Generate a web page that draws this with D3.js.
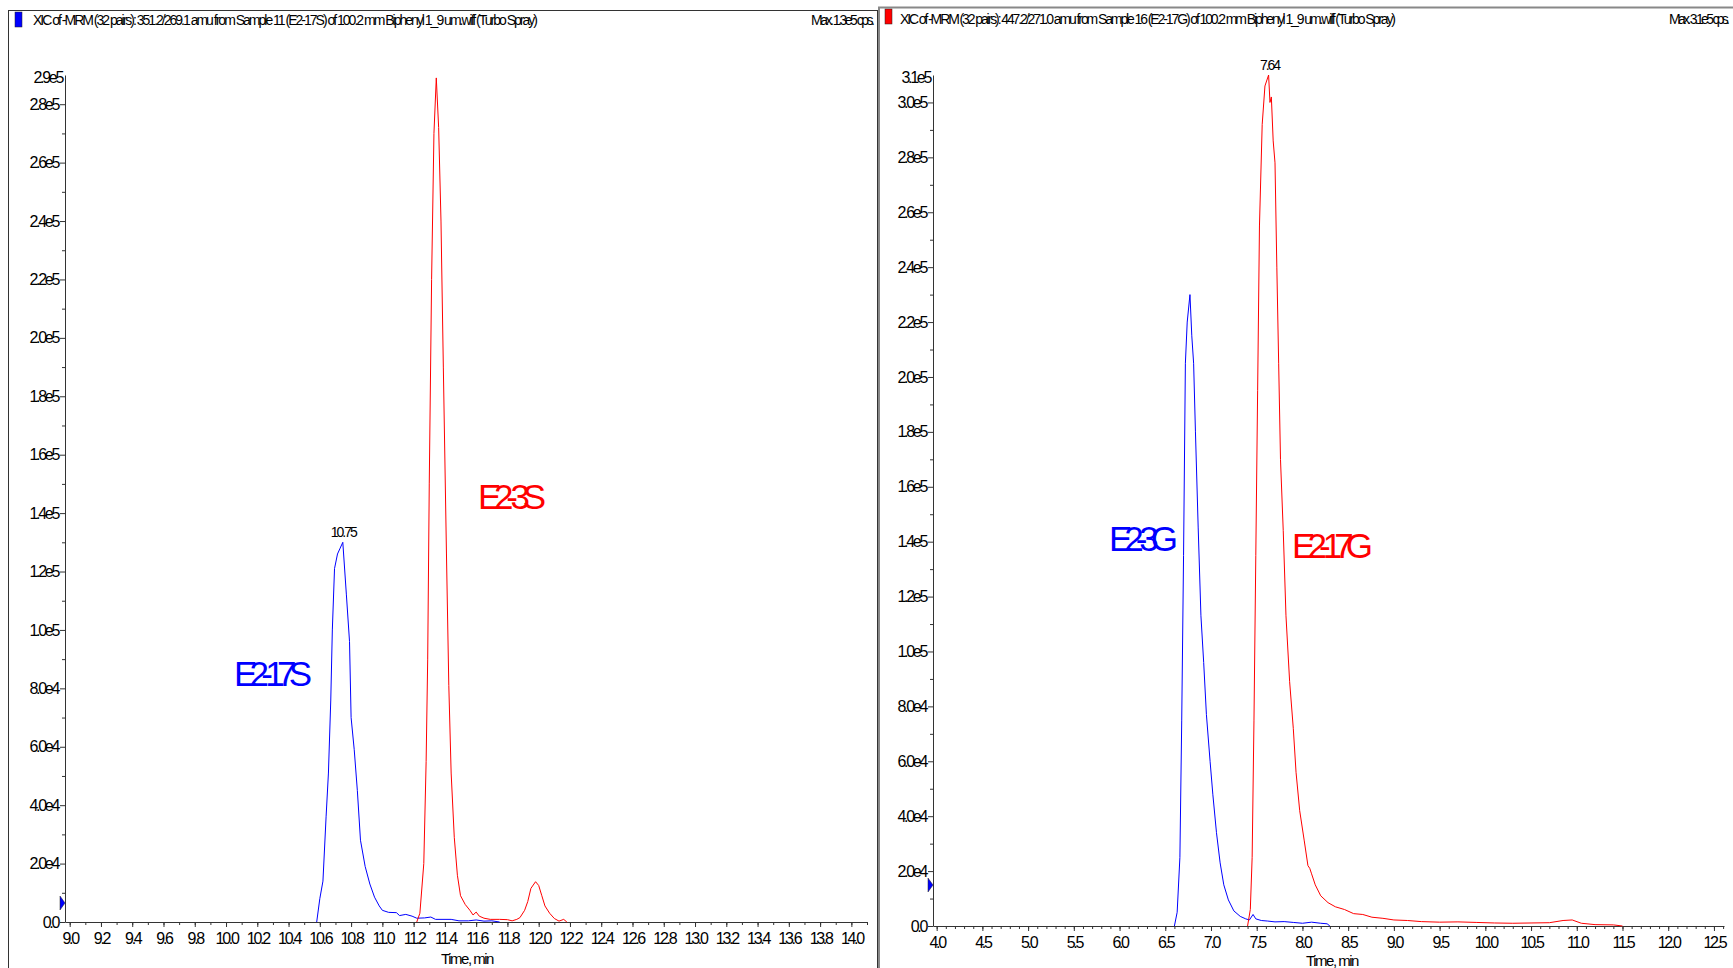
<!DOCTYPE html>
<html>
<head>
<meta charset="utf-8">
<script src="https://cdn.jsdelivr.net/npm/d3@7"></script>
<style>
body { margin: 0; background: #fff; }
svg { display: block; font-family: "Liberation Sans", Arial, sans-serif; }
.tick text { font-size: 16px; letter-spacing: -2.3px; fill: #000; }
.axis path, .axis line { stroke: #333; }
</style>
</head>
<body>
<svg id="chart" width="1733" height="968"></svg>
<script>

// E2-17S / E2-3S run (time in min, intensity in cps)
var e217s = [[10.58,0],[10.60,8e3],[10.62,1.4e4],[10.64,3.6e4],[10.655,5.1e4],[10.67,7.6e4],[10.68,1.0e5],
	[10.694,1.21e5],[10.713,1.26e5],[10.73,1.28e5],[10.747,1.30e5],[10.77,1.12e5],[10.79,9.6e4],[10.80,7.0e4],
	[10.82,5.9e4],[10.84,4.5e4],[10.86,2.8e4],[10.89,1.9e4],[10.92,1.3e4],[10.95,8.5e3],[10.98,5.5e3],
	[11.00,4.0e3],[11.04,3.3e3],[11.09,3.2e3],[11.11,2.2e3],[11.15,2.6e3],[11.19,2.0e3],[11.22,1.3e3],
	[11.27,1.4e3],[11.31,1.7e3],[11.34,900],[11.44,900],[11.49,400],[11.55,400],[11.60,700],[11.65,300],
	[11.70,400],[11.75,0]];
var e23s = [[11.22,0],[11.24,3e3],[11.265,2.0e4],[11.28,5.5e4],[11.29,9.0e4],[11.30,1.5e5],[11.315,2.2e5],
	[11.33,2.7e5],[11.345,2.89e5],[11.36,2.72e5],[11.375,2.4e5],[11.39,1.9e5],[11.41,1.26e5],[11.425,8.1e4],
	[11.44,5.1e4],[11.46,2.9e4],[11.48,1.6e4],[11.50,9e3],[11.53,6e3],[11.56,4e3],[11.58,2.4e3],[11.60,3.4e3],
	[11.62,2.0e3],[11.65,1.3e3],[11.69,900],[11.75,900],[11.80,800],[11.83,400],[11.86,900],[11.88,1.5e3],
	[11.91,4e3],[11.93,7e3],[11.95,1.15e4],[11.98,1.38e4],[12.00,1.25e4],[12.02,9e3],[12.04,5.5e3],
	[12.07,3.0e3],[12.10,1.2e3],[12.13,300],[12.16,900],[12.18,0]];

// E2-3G / E2-17G run
var e23g = [[6.60,0],[6.63,5e3],[6.66,2.5e4],[6.68,7.5e4],[6.70,1.35e5],[6.72,2.05e5],[6.74,2.2e5],[6.77,2.3e5],
	[6.79,2.15e5],[6.81,2.05e5],[6.83,1.8e5],[6.86,1.45e5],[6.89,1.13e5],[6.92,9.6e4],[6.95,7.7e4],[6.99,6.0e4],
	[7.02,4.8e4],[7.06,3.4e4],[7.10,2.3e4],[7.14,1.5e4],[7.19,9.5e3],[7.25,5.5e3],[7.32,3.5e3],[7.38,2.6e3],
	[7.42,2.2e3],[7.46,4.2e3],[7.49,2.6e3],[7.55,2.0e3],[7.62,1.8e3],[7.70,1.5e3],[7.80,1.6e3],[7.90,1.3e3],
	[8.00,1.0e3],[8.10,1.4e3],[8.20,1.0e3],[8.27,800],[8.30,0]];
var e217g = [[7.40,0],[7.43,6e3],[7.45,2.5e4],[7.47,7.5e4],[7.49,1.35e5],[7.51,1.95e5],[7.53,2.55e5],[7.56,2.92e5],
	[7.59,3.06e5],[7.63,3.1e5],[7.645,3.0e5],[7.66,3.02e5],[7.68,2.86e5],[7.70,2.78e5],[7.72,2.4e5],[7.74,2.05e5],
	[7.76,1.7e5],[7.79,1.44e5],[7.82,1.13e5],[7.86,8.9e4],[7.90,7.2e4],[7.93,5.6e4],[7.97,4.2e4],[8.02,3.1e4],
	[8.06,2.2e4],[8.08,2.1e4],[8.10,1.9e4],[8.14,1.5e4],[8.20,1.1e4],[8.28,8.5e3],[8.36,7e3],[8.46,6e3],
	[8.56,4.5e3],[8.66,4.2e3],[8.76,3.2e3],[8.88,2.8e3],[9.00,2.2e3],[9.15,2.0e3],[9.30,1.6e3],[9.50,1.4e3],
	[9.70,1.5e3],[9.90,1.3e3],[10.10,1.1e3],[10.30,1.0e3],[10.50,1.1e3],[10.70,1.2e3],[10.85,2.0e3],
	[10.95,2.2e3],[11.05,1.0e3],[11.20,500],[11.40,400],[11.50,0]];

// tick labels
var leftXTicks = [9.0,9.2,9.4,9.6,9.8,10.0,10.2,10.4,10.6,10.8,11.0,11.2,11.4,11.6,11.8,12.0,12.2,12.4,12.6,12.8,
	13.0,13.2,13.4,13.6,13.8,14.0];
var leftYTicks = [0,2e4,4e4,6e4,8e4,1.0e5,1.2e5,1.4e5,1.6e5,1.8e5,2.0e5,2.2e5,2.4e5,2.6e5,2.8e5];
var leftYMax = 2.9e5;
var rightXTicks = [4.0,4.5,5.0,5.5,6.0,6.5,7.0,7.5,8.0,8.5,9.0,9.5,10.0,10.5,11.0,11.5,12.0,12.5];
var rightYTicks = [0,2e4,4e4,6e4,8e4,1.0e5,1.2e5,1.4e5,1.6e5,1.8e5,2.0e5,2.2e5,2.4e5,2.6e5,2.8e5,3.0e5];
var rightYMax = 3.1e5;

var panels = [{
	frame: [8.5, 10.5, 869], clip: [0, 0, 877],
	swatch: '#0000ff', swatchPos: [15, 12],
	title: 'XIC of -MRM (32 pairs): 351.2/269.1 amu from Sample 11 (E2-17S) of 100.2 mm Biphenyl 1_9 um.wiff (Turbo Spray)',
	titlePos: [33, 25, 505], maxText: 'Max. 1.3e5 cps.', maxPos: [811, 25, 64],
	x: [8.97, 14.1], xr: [65, 867], y: [0, leftYMax], yr: [922, 75],
	xTicks: leftXTicks, yTicks: leftYTicks, yMax: leftYMax,
	traces: [[e217s, '#0000ff'], [e23s, '#ff0000']],
	peak: ['10.75', 10.75, 1.30e5],
	labels: [['E2-17S', '#0000ff', 234, 686, 78], ['E2-3S', '#ff0000', 478, 509, 68]],
	marker: 903, timePos: [467, 964]
}, {
	frame: [879, 7.5, 900], clip: [878, 0, 855],
	swatch: '#ff0000', swatchPos: [885, 9],
	title: 'XIC of -MRM (32 pairs): 447.2/271.0 amu from Sample 16 (E2-17G) of 100.2 mm Biphenyl 1_9 um.wiff (Turbo Spray)',
	titlePos: [900, 24, 496], maxText: 'Max. 3.1e5 cps.', maxPos: [1669, 24, 61],
	x: [3.96, 12.61], xr: [933, 1724], y: [0, rightYMax], yr: [926, 75],
	xTicks: rightXTicks, yTicks: rightYTicks, yMax: rightYMax,
	traces: [[e23g, '#0000ff'], [e217g, '#ff0000']],
	peak: ['7.64', 7.64, 3.1e5],
	labels: [['E2-3G', '#0000ff', 1109, 551, 69], ['E2-17G', '#ff0000', 1292, 558, 81]],
	marker: 885, timePos: [1332, 966]
}];

var svg = d3.select('#chart');

function fmtY(v) {
	var e;
	if (v === 0) {
		return '0.0';
	}
	e = Math.floor(Math.log10(v) + 1e-9);
	return (v / Math.pow(10, e)).toFixed(1) + 'e' + e;
}

function drawPanel(p, i) {
	var g, head, x, y, line, minor, clipId;

	g = svg.append('g');
	clipId = 'clip' + i;
	svg.append('clipPath').attr('id', clipId).append('rect')
		.attr('x', p.clip[0]).attr('y', p.clip[1]).attr('width', p.clip[2]).attr('height', 968);

	// panel frame
	g.append('rect')
		.attr('x', p.frame[0]).attr('y', p.frame[1])
		.attr('width', p.frame[2]).attr('height', 1000)
		.attr('fill', 'none')
		.attr('stroke', i ? '#888' : '#333')
		.attr('stroke-width', i ? 2 : 1);

	// header
	head = g.append('g').attr('clip-path', 'url(#' + clipId + ')');
	head.append('rect')
		.attr('x', p.swatchPos[0]).attr('y', p.swatchPos[1])
		.attr('width', 7).attr('height', 15)
		.attr('fill', p.swatch).attr('stroke', '#222').attr('stroke-width', 0.5);
	head.append('text')
		.attr('x', p.titlePos[0]).attr('y', p.titlePos[1])
		.attr('textLength', p.titlePos[2]).attr('lengthAdjust', 'spacing')
		.attr('font-size', 14)
		.text(p.title);
	head.append('text')
		.attr('x', p.maxPos[0]).attr('y', p.maxPos[1])
		.attr('textLength', p.maxPos[2]).attr('lengthAdjust', 'spacing')
		.attr('font-size', 14)
		.text(p.maxText);

	x = d3.scaleLinear().domain(p.x).range(p.xr);
	y = d3.scaleLinear().domain(p.y).range(p.yr);

	// x axis with minor ticks every 0.1 min
	minor = d3.range(Math.ceil(p.x[0] * 10), Math.floor(p.x[1] * 10) + 1).map(function(d) { return d / 10; });
	g.append('g').attr('class', 'axis')
		.attr('transform', 'translate(0,' + p.yr[0] + ')')
		.call(d3.axisBottom(x).tickValues(minor).tickSize(3).tickSizeOuter(0).tickFormat(''));
	g.append('g').attr('class', 'axis')
		.attr('transform', 'translate(0,' + p.yr[0] + ')')
		.call(d3.axisBottom(x).tickValues(p.xTicks).tickSize(5).tickSizeOuter(0).tickPadding(6)
			.tickFormat(d3.format('.1f')))
		.call(function(s) { s.select('.domain').remove(); });

	// y axis, minor every 1e4
	g.append('g').attr('class', 'axis')
		.attr('transform', 'translate(' + p.xr[0] + ',0)')
		.call(d3.axisLeft(y).tickValues(d3.range(1e4, p.yMax, 2e4)).tickSize(3).tickSizeOuter(0).tickFormat(''));
	g.append('g').attr('class', 'axis')
		.attr('transform', 'translate(' + p.xr[0] + ',0)')
		.call(d3.axisLeft(y).tickValues(p.yTicks).tickSize(5).tickSizeOuter(0).tickPadding(2).tickFormat(fmtY))
		.call(function(s) { s.select('.domain').remove(); });
	// top-of-scale label
	g.append('text')
		.attr('x', p.xr[0] - 3).attr('y', y(p.yMax) + 8)
		.attr('text-anchor', 'end')
		.attr('font-size', 16).attr('letter-spacing', '-2.3px')
		.text(fmtY(p.yMax));

	// threshold marker
	g.append('path')
		.attr('d', 'M' + (p.xr[0] - 5) + ',' + (p.marker - 7) + 'L' + p.xr[0] + ',' + p.marker +
			'L' + (p.xr[0] - 5) + ',' + (p.marker + 7) + 'Z')
		.attr('fill', '#0000ff').attr('stroke', '#222').attr('stroke-width', 0.5);

	line = d3.line()
		.x(function(d) { return x(d[0]); })
		.y(function(d) { return y(d[1]); });

	p.traces.forEach(function(t) {
		g.append('path')
			.datum(t[0])
			.attr('d', line)
			.attr('fill', 'none')
			.attr('stroke', t[1])
			.attr('stroke-width', 1);
	});

	// peak apex label
	g.append('text')
		.attr('x', x(p.peak[1])).attr('y', y(p.peak[2]) - 5)
		.attr('text-anchor', 'middle')
		.attr('font-size', 14).attr('letter-spacing', '-2px')
		.text(p.peak[0]);

	// compound labels
	p.labels.forEach(function(l) {
		g.append('text')
			.attr('x', l[2]).attr('y', l[3])
			.attr('fill', l[1])
			.attr('font-size', 35)
			.attr('textLength', l[4]).attr('lengthAdjust', 'spacing')
			.text(l[0]);
	});

	g.append('text')
		.attr('x', p.timePos[0]).attr('y', p.timePos[1])
		.attr('text-anchor', 'middle')
		.attr('font-size', 15).attr('letter-spacing', '-1.5px')
		.text('Time, min');
}

panels.forEach(drawPanel);

</script>
</body>
</html>
